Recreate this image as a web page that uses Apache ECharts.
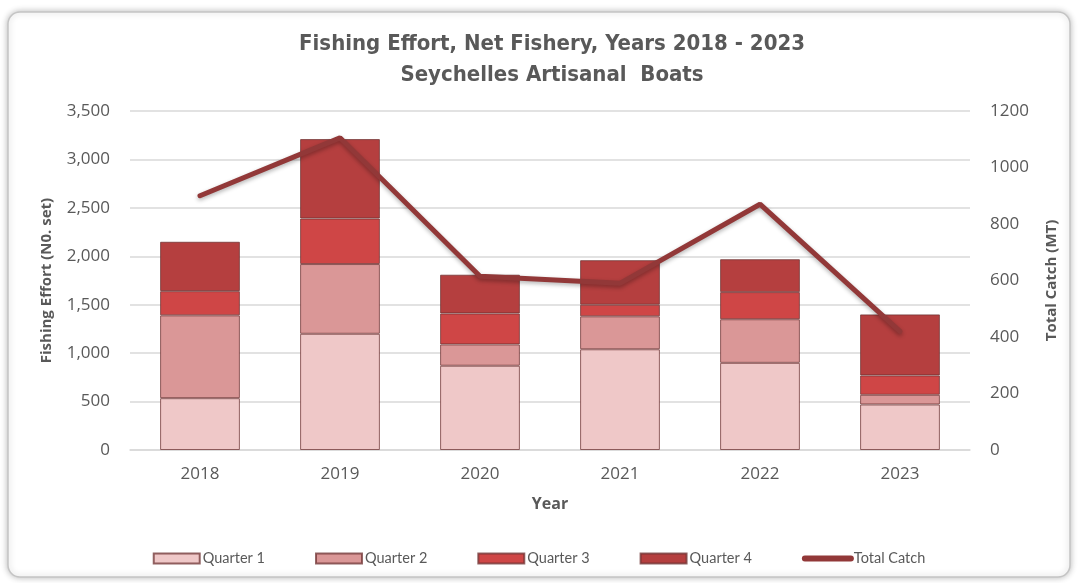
<!DOCTYPE html>
<html>
<head>
<meta charset="utf-8">
<script src="https://cdn.jsdelivr.net/npm/echarts@6/dist/echarts.min.js"></script>
<style>
  html, body { margin: 0; padding: 0; background: #fff; }
  #main { width: 1078px; height: 583px; }
</style>
</head>
<body>
<div id="main"></div>
<script>
var years = ['2018', '2019', '2020', '2021', '2022', '2023'];
var quarter1 = [535, 1200, 870, 1040, 900, 470];
var quarter2 = [855, 720, 220, 340, 450, 100];
var quarter3 = [250, 470, 320, 120, 280, 200];
var quarter4 = [510, 820, 400, 460, 340, 630];
var totalCatch = [900, 1105, 615, 590, 870, 420];

var txt = '#595959';
var font = '"Open Sans", "Noto Sans", sans-serif';

function barStyle(c) {
    return {
        color: c,
        borderColor: 'rgba(110, 50, 50, 0.75)',
        borderWidth: 1
    };
}

var myChart = echarts.init(document.getElementById('main'));
var option = {
    backgroundColor: '#fff',
    textStyle: { fontFamily: font },
    graphic: [{
        type: 'rect',
        shape: { x: 8, y: 12, width: 1062, height: 565, r: 12 },
        style: {
            fill: '#fff',
            stroke: '#c4c4c4',
            lineWidth: 1.5,
            shadowBlur: 6,
            shadowColor: 'rgba(0,0,0,0.25)'
        },
        z: -10
    }],
    title: {
        text: 'Fishing Effort, Net Fishery, Years 2018 - 2023\nSeychelles Artisanal  Boats',
        left: 547,
        textAlign: 'center',
        top: 24,
        textStyle: {
            color: txt,
            fontSize: 22,
            fontWeight: 'bold',
            lineHeight: 31,
            fontFamily: '"DejaVu Sans Condensed", "Liberation Sans Narrow", sans-serif'
        }
    },
    legend: {
        bottom: 12,
        left: 'center',
        itemWidth: 46,
        itemHeight: 10,
        itemGap: 50,
        textStyle: { color: txt, fontSize: 14.5, fontFamily: 'Lato, sans-serif', padding: [0, 0, 0, -2] },
        data: [
            { name: 'Quarter 1', icon: 'rect' },
            { name: 'Quarter 2', icon: 'rect' },
            { name: 'Quarter 3', icon: 'rect' },
            { name: 'Quarter 4', icon: 'rect' },
            {
                name: 'Total Catch',
                itemStyle: { opacity: 0 },
                lineStyle: { width: 6, cap: 'round', color: '#923838' }
            }
        ]
    },
    grid: { left: 130, right: 108, top: 111, bottom: 133 },
    xAxis: {
        type: 'category',
        data: years,
        name: 'Year',
        nameLocation: 'middle',
        nameGap: 46,
        nameTextStyle: { color: txt, fontSize: 16, fontWeight: 'bold' },
        axisLine: { lineStyle: { color: '#d9d9d9', width: 1.5 } },
        axisTick: { show: false },
        axisLabel: { color: txt, fontSize: 17, margin: 16 }
    },
    yAxis: [{
        type: 'value',
        min: 0,
        max: 3500,
        interval: 500,
        name: 'Fishing Effort (N0. set)',
        nameLocation: 'middle',
        nameGap: 76,
        nameTextStyle: { color: txt, fontSize: 15, fontWeight: 'bold' },
        axisLabel: {
            color: txt,
            fontSize: 17,
            margin: 20,
            formatter: function (v) { return v.toLocaleString('en-US'); }
        },
        splitLine: { lineStyle: { color: '#d9d9d9', width: 1.5 } }
    }, {
        type: 'value',
        min: 0,
        max: 1200,
        interval: 200,
        name: 'Total Catch (MT)',
        nameLocation: 'middle',
        nameGap: 74,
        nameTextStyle: { color: txt, fontSize: 15, fontWeight: 'bold' },
        axisLabel: {
            color: txt,
            fontSize: 17,
            margin: 20,
            formatter: function (v) { return String(v); }
        },
        splitLine: { show: false }
    }],
    series: [
        { name: 'Quarter 1', type: 'bar', stack: 'q', barWidth: '57%', data: quarter1, itemStyle: barStyle('#efc8c8') },
        { name: 'Quarter 2', type: 'bar', stack: 'q', data: quarter2, itemStyle: barStyle('#da9797') },
        { name: 'Quarter 3', type: 'bar', stack: 'q', data: quarter3, itemStyle: barStyle('#cf4646') },
        { name: 'Quarter 4', type: 'bar', stack: 'q', data: quarter4, itemStyle: barStyle('#b53f3f') },
        {
            name: 'Total Catch',
            type: 'line',
            yAxisIndex: 1,
            data: totalCatch,
            symbol: 'none',
            z: 5,
            itemStyle: { color: '#923838' },
            lineStyle: {
                color: '#923838',
                width: 5,
                cap: 'round',
                shadowBlur: 4,
                shadowColor: 'rgba(0,0,0,0.3)',
                shadowOffsetY: 2
            }
        }
    ]
};
myChart.setOption(option);
</script>
</body>
</html>
